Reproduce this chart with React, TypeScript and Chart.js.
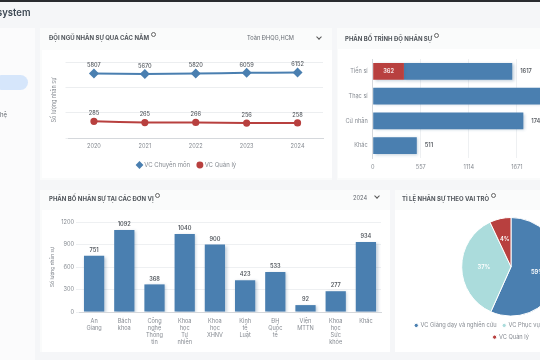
import React, { useEffect, useRef } from "react";
import { Chart, registerables } from "chart.js";
Chart.register(...registerables);

const years = ["2020", "2021", "2022", "2023", "2024"];
const chuyenMon = [5807, 5670, 5820, 6059, 6152];
const quanLy = [285, 265, 266, 256, 258];
const logGrid = [100, 484, 2340, 12000];

const degrees = ["Tiến sĩ", "Thạc sĩ", "Cử nhân", "Khác"];
const degreeRed = [362, 0, 0, 0];
const degreeBlue = [1255, 2536, 1746, 511];
const degreeTotals = [1617, 2536, 1746, 511];
const degreeTicks = 557;
const degreeMax = 2785;

const units = [
  ["An", "Giang"],
  ["Bách", "khoa"],
  ["Công", "nghệ", "Thông", "tin"],
  ["Khoa", "học", "Tự", "nhiên"],
  ["Khoa", "học", "XHNV"],
  ["Kinh", "tế", "Luật"],
  ["ĐH", "Quốc", "tế"],
  ["Viện", "MTTN"],
  ["Khoa", "học", "Sức", "khỏe"],
  ["Khác"],
];
const unitValues = [751, 1092, 368, 1040, 900, 423, 533, 92, 277, 934];

const roles = ["VC Giảng dạy và nghiên cứu", "VC Phục vụ giảng dạy và nghiên cứu", "VC Quản lý"];
const roleSlices = [56.7, 36.3, 7];
const roleLabels = ["59%", "37%", "4%"];

const BLUE = "#4a7fb0";
const RED = "#b8403f";
const TEAL = "#abdcdc";
const GREY = "#858a91";
const DARK = "#555a60";
const FONT = "Inter, 'Noto Sans', sans-serif";

const softShadow = {
  id: "softShadow",
  beforeDatasetsDraw(c: any) {
    c.ctx.save();
    c.ctx.shadowColor = "rgba(60,100,140,0.32)";
    c.ctx.shadowBlur = 3;
    c.ctx.shadowOffsetX = 1.5;
    c.ctx.shadowOffsetY = 1;
  },
  afterDatasetsDraw(c: any) {
    c.ctx.restore();
  },
};

function label(ctx: any, text: string, x: number, y: number, color = DARK, font = `500 5.6px ${FONT}`, align = "center") {
  ctx.save();
  ctx.font = font;
  ctx.fillStyle = color;
  ctx.textAlign = align;
  ctx.textBaseline = "middle";
  ctx.fillText(text, x, y);
  ctx.restore();
}

const lineLabels = {
  id: "lineLabels",
  afterDraw(c: any) {
    c.data.datasets.forEach((d: any, i: number) => {
      c.getDatasetMeta(i).data.forEach((p: any, j: number) => label(c.ctx, String(d.data[j]), p.x, p.y - 8));
    });
  },
};
const degreeLabels = {
  id: "degreeLabels",
  afterDraw(c: any) {
    const meta = c.getDatasetMeta(1).data;
    meta.forEach((b: any, j: number) => label(c.ctx, String(degreeTotals[j]), b.x + 8, b.y, DARK, `600 5.6px ${FONT}`, "left"));
    const r = c.getDatasetMeta(0).data[0];
    label(c.ctx, String(degreeRed[0]), (r.x + r.base) / 2, r.y, "#f3dede", `700 5.6px ${FONT}`);
  },
};
const unitLabels = {
  id: "unitLabels",
  afterDraw(c: any) {
    c.getDatasetMeta(0).data.forEach((b: any, j: number) => label(c.ctx, String(unitValues[j]), b.x, b.y - 5.5, DARK, `600 5.6px ${FONT}`));
  },
};
const pieLabels = {
  id: "pieLabels",
  afterDraw(c: any) {
    c.getDatasetMeta(0).data.forEach((a: any, j: number) => {
      const mid = (a.startAngle + a.endAngle) / 2;
      const rr = j === 2 ? 0.58 : 0.55;
      label(c.ctx, roleLabels[j], a.x + Math.cos(mid) * a.outerRadius * rr, a.y + Math.sin(mid) * a.outerRadius * rr, "#ffffff", `600 5.8px ${FONT}`);
    });
  },
};

const tickFont = { family: FONT, size: 5.6 };
const plainNumber = (v: any) => String(v);

function useChart(build: () => any) {
  const ref = useRef<HTMLCanvasElement>(null);
  useEffect(() => {
    const chart = new Chart(ref.current as any, build());
    return () => chart.destroy();
  }, []);
  return ref;
}

function lineConfig() {
  return {
    type: "line",
    plugins: [lineLabels],
    data: {
      labels: years,
      datasets: [
        { label: "VC Chuyên môn", data: chuyenMon, borderColor: BLUE, backgroundColor: BLUE, borderWidth: 2, pointStyle: "rectRot", pointRadius: 3.6, tension: 0.1 },
        { label: "VC Quản lý", data: quanLy, borderColor: RED, backgroundColor: RED, borderWidth: 2, pointStyle: "circle", pointRadius: 2.6, tension: 0.1 },
      ],
    },
    options: {
      responsive: false,
      animation: false,
      layout: { padding: { top: 12, right: 9, left: 9, bottom: 0 } },
      plugins: {
        tooltip: { enabled: false },
        legend: {
          position: "bottom",
          labels: { usePointStyle: true, boxWidth: 3.5, boxHeight: 3.5, padding: 8, color: GREY, font: { family: FONT, size: 6 } },
        },
      },
      scales: {
        x: {
          offset: true,
          grid: { display: false, drawTicks: false, tickLength: 0 },
          border: { color: "#d5d8dc" },
          ticks: { color: GREY, font: tickFont, padding: 5 },
          afterFit: (s: any) => { s.height = 16; },
        },
        y: {
          type: "logarithmic",
          min: 100,
          max: 12000,
          afterBuildTicks: (s: any) => { s.ticks = logGrid.map((value) => ({ value })); },
          grid: { color: "#eceef0", tickLength: 3 },
          border: { display: false },
          ticks: { display: false },
          title: { display: true, text: "Số lượng nhân sự", color: GREY, font: { family: FONT, size: 5.5 }, padding: 0 },
          afterFit: (s: any) => { s.width = 17.5; },
        },
      },
    },
  };
}

function degreeConfig() {
  return {
    type: "bar",
    plugins: [softShadow, degreeLabels],
    data: {
      labels: degrees,
      datasets: [
        { label: "Đỏ", data: degreeRed, backgroundColor: RED, barPercentage: 0.67, categoryPercentage: 1 },
        { label: "Xanh", data: degreeBlue, backgroundColor: BLUE, barPercentage: 0.67, categoryPercentage: 1 },
      ],
    },
    options: {
      indexAxis: "y",
      responsive: false,
      animation: false,
      layout: { padding: { top: 10, right: 15, left: 0, bottom: 0 } },
      plugins: { legend: { display: false }, tooltip: { enabled: false } },
      scales: {
        x: {
          stacked: true,
          min: 0,
          max: degreeMax,
          grid: { color: "#eef0f2", drawTicks: false, tickLength: 0 },
          border: { display: false },
          ticks: { stepSize: degreeTicks, color: GREY, font: tickFont, padding: 6, callback: plainNumber },
          afterFit: (s: any) => { s.height = 20; },
        },
        y: {
          stacked: true,
          grid: { display: false, drawTicks: false, tickLength: 0 },
          border: { color: "#d5d8dc" },
          ticks: { color: GREY, font: tickFont, padding: 5 },
          afterFit: (s: any) => { s.width = 34.7; },
        },
      },
    },
  };
}

function unitConfig() {
  return {
    type: "bar",
    plugins: [softShadow, unitLabels],
    data: {
      labels: units,
      datasets: [{ label: "Số lượng nhân sự", data: unitValues, backgroundColor: BLUE, barPercentage: 0.67, categoryPercentage: 1 }],
    },
    options: {
      responsive: false,
      animation: false,
      layout: { padding: { top: 12, right: 9, left: 8, bottom: 0 } },
      plugins: { legend: { display: false }, tooltip: { enabled: false } },
      scales: {
        x: {
          grid: { display: false, drawTicks: false, tickLength: 0 },
          border: { color: "#d5d8dc" },
          ticks: { color: GREY, font: { ...tickFont, lineHeight: 1.25 }, padding: 6, maxRotation: 0, autoSkip: false },
          afterFit: (s: any) => { s.height = 40; },
        },
        y: {
          min: 0,
          max: 1200,
          grid: { color: "#eef0f2", tickLength: 3 },
          border: { display: false },
          ticks: { stepSize: 300, color: GREY, font: tickFont, padding: 2, callback: plainNumber },
          title: { display: true, text: "Số lượng nhân sự", color: GREY, font: { family: FONT, size: 4.9 }, padding: 0 },
          afterFit: (s: any) => { s.width = 29; },
        },
      },
    },
  };
}

function pieConfig() {
  return {
    type: "pie",
    plugins: [pieLabels],
    data: {
      labels: roles,
      datasets: [{ data: roleSlices, backgroundColor: [BLUE, TEAL, RED], borderColor: "#ffffff", borderWidth: 1 }],
    },
    options: {
      responsive: false,
      animation: false,
      layout: { padding: { top: 7, bottom: 2 } },
      plugins: {
        tooltip: { enabled: false },
        legend: {
          position: "bottom",
          labels: { usePointStyle: true, boxWidth: 3, boxHeight: 3, padding: 6, color: GREY, font: { family: FONT, size: 5.7 } },
        },
      },
    },
  };
}

const box = (x: number, y: number, w: number, h: number, bg: string): React.CSSProperties => ({ position: "absolute", left: x, top: y, width: w, height: h, background: bg });

function Title({ x, y, text }: { x: number; y: number; text: string }) {
  return (
    <div style={{ position: "absolute", left: x, top: y, fontFamily: FONT, fontSize: 6, fontWeight: 700, color: "#50555b", whiteSpace: "nowrap", lineHeight: "9px" }}>
      {text}
      <span style={{ display: "inline-block", width: 3, height: 3, border: "0.6px solid #666", borderRadius: "50%", marginLeft: 1.5, verticalAlign: 3 }} />
    </div>
  );
}

function Note({ x, y, text, size = 5.7, color = "#666b72", weight = 400 }: any) {
  return <div style={{ position: "absolute", left: x, top: y, fontFamily: FONT, fontSize: size, fontWeight: weight, color, whiteSpace: "nowrap", lineHeight: "9px" }}>{text}</div>;
}

function Chevron({ x, y }: { x: number; y: number }) {
  return <div style={{ position: "absolute", left: x, top: y, width: 3, height: 3, borderRight: "1px solid #555", borderBottom: "1px solid #555", transform: "rotate(45deg)" }} />;
}

function Plot({ x, y, w, h, build }: any) {
  const ref = useChart(build);
  return <canvas ref={ref} width={w} height={h} style={{ position: "absolute", left: x, top: y, width: w, height: h }} />;
}

export default function App() {
  return (
    <div style={{ position: "fixed", left: 0, top: 0, width: 540, height: 360, overflow: "hidden", background: "#f5f6f8" }}>
      <div style={{ position: "absolute", inset: 0, filter: "blur(0.4px)" }}>
        <div style={box(0, 0, 540, 2, "#2a2c30")} />
        <Note x={-3} y={8} text="system" size={9.5} weight={600} color="#3f4a55" />
        <div style={box(0, 28, 35, 332, "#fbfbfc")} />
        <div style={{ ...box(-6, 75, 34, 15, "#d6e6fb"), borderRadius: 8 }} />
        <Note x={0} y={110} text="hệ" size={6} />

        <div style={box(40, 28, 292, 152, "#fafbfb")} />
        <div style={box(42, 50, 290, 128, "#ffffff")} />
        <Title x={49} y={32} text="ĐỘI NGŨ NHÂN SỰ QUA CÁC NĂM" />
        <Note x={247} y={33} text="Toàn ĐHQG,HCM" />
        <Chevron x={317} y={35} />
        <Plot x={42} y={50} w={290} h={128} build={lineConfig} />

        <div style={box(337, 28, 203, 152, "#fafbfb")} />
        <div style={box(338, 49, 202, 129, "#ffffff")} />
        <Title x={345} y={33} text="PHÂN BỐ TRÌNH ĐỘ NHÂN SỰ" />
        <Plot x={338} y={49} w={290} h={129} build={degreeConfig} />

        <div style={box(40, 190, 350, 162, "#fafbfb")} />
        <div style={box(42, 210, 348, 142, "#ffffff")} />
        <Title x={49} y={193} text="PHÂN BỐ NHÂN SỰ TẠI CÁC ĐƠN VỊ" />
        <Note x={353} y={193} text="2024" />
        <Chevron x={375} y={194} />
        <Plot x={42} y={210} w={348} h={142} build={unitConfig} />

        <div style={box(395, 190, 145, 162, "#fafbfb")} />
        <div style={box(395, 210, 145, 142, "#ffffff")} />
        <Title x={402} y={193} text="TỈ LỆ NHÂN SỰ THEO VAI TRÒ" />
        <Plot x={395} y={210} w={232} h={142} build={pieConfig} />
      </div>
    </div>
  );
}
